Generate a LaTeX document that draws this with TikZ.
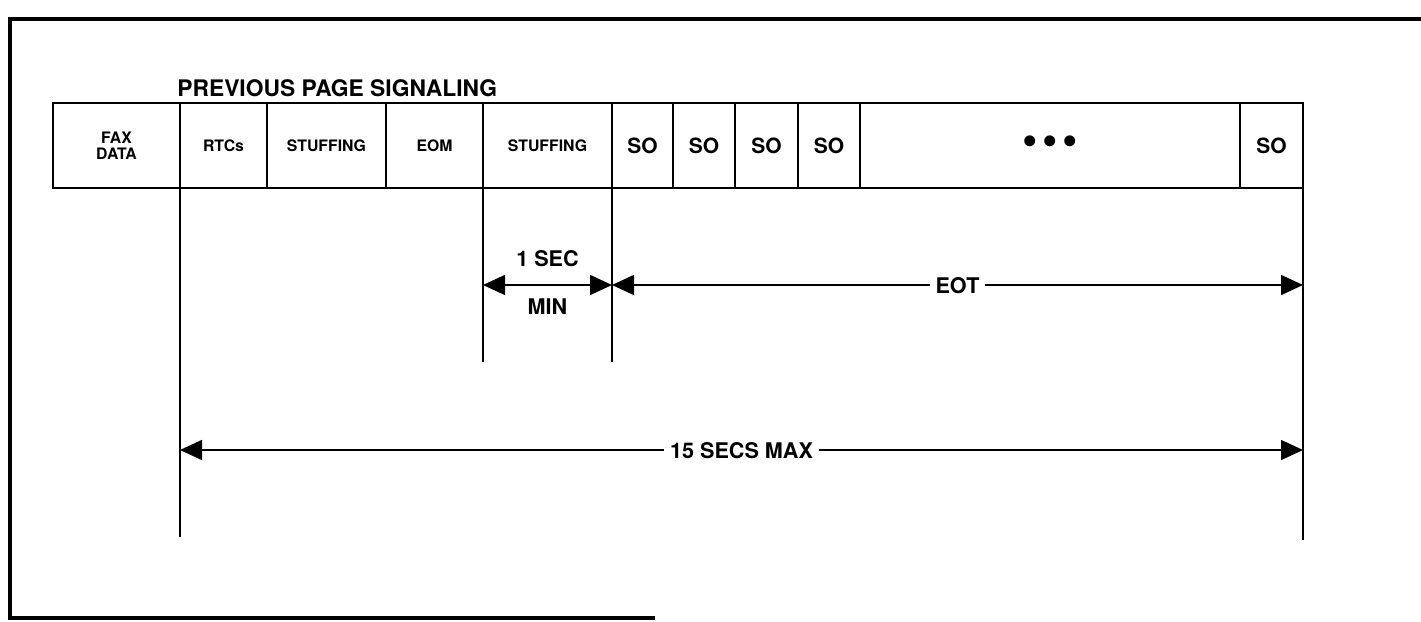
\documentclass[tikz,border=0pt]{standalone}
\usepackage{fontspec}
\setmainfont{TeX Gyre Heros}
\usetikzlibrary{arrows.meta,positioning,calc}

\begin{document}
\begin{tikzpicture}[x=0.5pt, y=-0.5pt,
  cell/.style={rectangle, draw=black, line width=0.9pt, outer sep=0pt, inner sep=0pt,
    minimum width=#1, minimum height=42.5pt, align=center,
    font=\fontsize{7.9}{8.2}\selectfont\bfseries},
  so/.style={cell=#1, font=\fontsize{10.5}{12}\selectfont\bfseries},
  guide/.style={line width=0.9pt},
  dim/.style={{Triangle[length=11pt,width=10pt]}-{Triangle[length=11pt,width=10pt]}, line width=0.8pt},
  lbl/.style={font=\fontsize{10.8}{12}\selectfont\bfseries, inner sep=3pt, text depth=0pt},
  frame/.style={line width=1.8pt}
]
\useasboundingbox (0,0) rectangle (1421,622);
\draw[frame] (655,618) -- (10,618) -- (10,19) -- (1421,19);

% frame row
\node[cell=63.5pt] (fax) at (116.5,145.5) {FAX\\DATA};
\node[cell=43.5pt, right=0pt of fax]  (rtc)  {RTCs};
\node[cell=59.5pt, right=0pt of rtc]  (stf1) {STUFFING};
\node[cell=48.5pt, right=0pt of stf1] (eom)  {EOM};
\node[cell=64.5pt, right=0pt of eom]  (stf2) {STUFFING};
\node[so=30.5pt, right=0pt of stf2] (so1) {SO};
\node[so=31pt,   right=0pt of so1]  (so2) {SO};
\node[so=31.5pt, right=0pt of so2]  (so3) {SO};
\node[so=31pt,   right=0pt of so3]  (so4) {SO};
\node[so=190pt,  right=0pt of so4]  (more) {\fontsize{22}{22}\selectfont •\hspace{2.2pt}•\hspace{2.2pt}•};
\node[so=31.5pt, right=0pt of more] (so5) {SO};

\node[font=\fontsize{11.4}{13}\selectfont\bfseries, anchor=base west, inner sep=0pt]
  (title) at ($(rtc.north west)+(-3,-7)$) {PREVIOUS PAGE SIGNALING};

% guide lines
\draw[guide] (rtc.south west)  -- ++(0,349);
\draw[guide] (stf2.south west) -- ++(0,174);
\draw[guide] (stf2.south east) -- ++(0,174);
\draw[guide] (so5.south east)  -- ++(0,352);

\coordinate (m1) at ($(stf2.south west)+(0,97)$);
\coordinate (m2) at ($(stf2.south east)+(0,97)$);
\coordinate (m3) at ($(so5.south east)+(0,97)$);
\coordinate (t1) at ($(rtc.south west)+(0,262)$);
\coordinate (t2) at ($(so5.south east)+(0,262)$);

\draw[dim] (m1) -- (m2)
  node[lbl, midway, yshift=13.5pt] {1 SEC}
  node[lbl, midway, yshift=-11pt] {MIN};
\draw[dim] (m2) -- node[lbl, fill=white] {EOT} (m3);
\draw[dim] (t1) -- node[lbl, fill=white] {15 SECS MAX} (t2);
\end{tikzpicture}
\end{document}
